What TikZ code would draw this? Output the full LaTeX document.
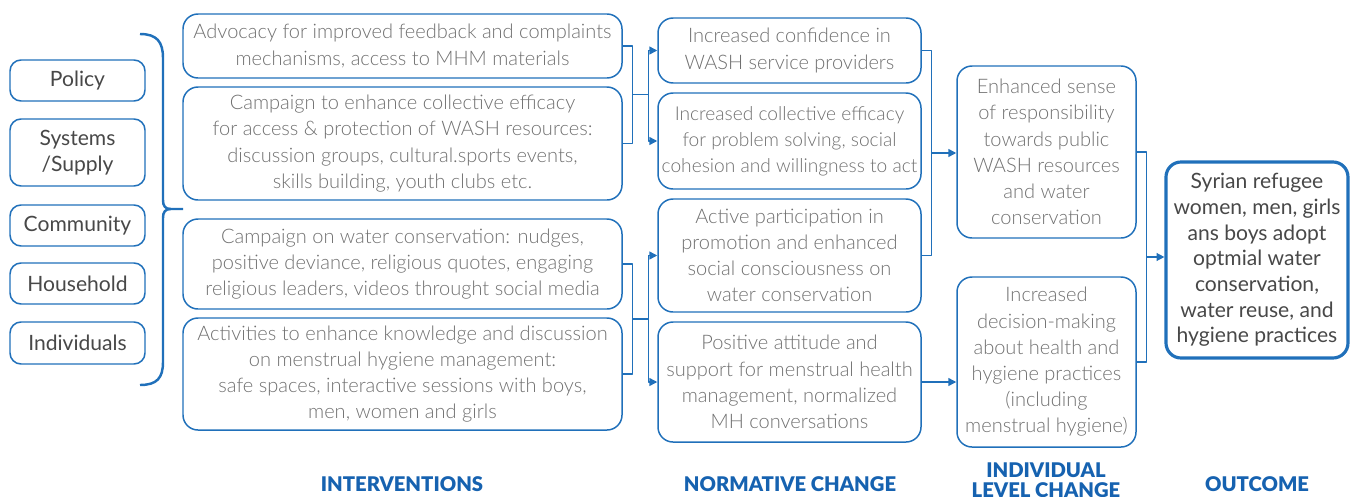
\documentclass[tikz,border=0pt]{standalone}
\usepackage{fontspec}
\setmainfont{Lato}
\newfontfamily\lightfont{Lato Light}
\newfontfamily\heavyfont{Lato Black}
\usetikzlibrary{calc,arrows.meta}
\definecolor{washblue}{RGB}{32,112,186}
\definecolor{headblue}{RGB}{22,98,176}
\definecolor{softgray}{RGB}{112,112,112}
\definecolor{darkgray}{RGB}{72,72,72}
\newcommand\pxu{0.02cm}
\begin{document}
\begin{tikzpicture}[x=0.02cm, y=-0.02cm, line join=round,
  box/.style={draw=washblue, line width=0.85pt, rounded corners=0.3cm, align=center, inner sep=0pt,
    text=softgray, font=\lightfont\fontsize{11.4}{14.9}\selectfont},
  level/.style={box, rounded corners=0.22cm, text=darkgray, font=\fontsize{12}{14.7}\selectfont},
  goal/.style={box, line width=1.8pt, text=darkgray, font=\fontsize{12}{14.6}\selectfont},
  link/.style={draw=washblue, line width=0.8pt},
  tip/.style={link, -{Triangle[length=4.5pt,width=4.5pt]}},
  head/.style={text=headblue, font=\heavyfont\fontsize{11.5}{11.3}\selectfont, align=center, inner sep=0pt}]
\useasboundingbox (0,0) rectangle (1350,497);

% levels
\foreach \n/\y/\h/\t in {pol/80.5/41/Policy, sys/152.5/67/{Systems\\/Supply}, com/225.5/41/Community,
    hou/283.5/41/Household, ind/343/42/Individuals}
  \node[level, minimum width=135*\pxu, minimum height=\h*\pxu] (\n) at (77.5,\y) {\t};
\draw[washblue, line width=1.4pt] (140,34) .. controls (157,34) and (163,42) .. (163,58) -- (163,200)
  .. controls (163,206) and (165,209) .. (171,209) -- (183,209)
  (171,209) .. controls (165,209) and (163,212) .. (163,218) -- (163,362)
  .. controls (163,378) and (157,385) .. (140,385);

% interventions
\node[box, minimum width=439*\pxu, minimum height=64*\pxu] (adv) at (402.5,46)
  {Advocacy for improved feedback and complaints\\mechanisms, access to MHM materials};
\node[box, minimum width=439*\pxu, minimum height=113*\pxu] (camp) at (402.5,143.5)
  {Campaign to enhance collective efficacy\\for access \& protection of WASH resources:\\discussion groups, cultural.sports events,\\skills building, youth clubs etc.};
\node[box, minimum width=439*\pxu, minimum height=90*\pxu] (cons) at (402.5,264)
  {Campaign on water conservation: nudges,\\positive deviance, religious quotes, engaging\\religious leaders, videos throught social media};
\node[box, minimum width=439*\pxu, minimum height=112*\pxu] (mhm) at (402.5,374)
  {Activities to enhance knowledge and discussion\\on menstrual hygiene management:\\safe spaces, interactive sessions with boys,\\men, women and girls};

% normative change
\node[box, minimum width=263*\pxu, minimum height=65*\pxu] (conf) at (789.5,50.5)
  {Increased confidence in\\WASH service providers};
\node[box, minimum width=263*\pxu, minimum height=96*\pxu, font=\lightfont\fontsize{10.9}{14.9}\selectfont] (eff) at (789.5,141)
  {Increased collective efficacy\\for problem solving, social\\cohesion and willingness to act};
\node[box, minimum width=263*\pxu, minimum height=113*\pxu] (part) at (789.5,255.5)
  {Active participation in\\promotion and enhanced\\social consciousness on\\water conservation};
\node[box, minimum width=263*\pxu, minimum height=120*\pxu] (att) at (789.5,382)
  {Positive attitude and\\support for menstrual health\\management, normalized\\MH conversations};

% individual change
\node[box, minimum width=179*\pxu, minimum height=172*\pxu] (resp) at (1046.5,152)
  {Enhanced sense\\of responsibility\\towards public\\WASH resources\\and water\\conservation};
\node[box, minimum width=179*\pxu, minimum height=170*\pxu] (dec) at (1046.5,362)
  {Increased\\decision-making\\about health and\\hygiene practices\\(including\\menstrual hygiene)};

% outcome
\node[goal, minimum width=182*\pxu, minimum height=196*\pxu] (out) at (1257,260)
  {Syrian refugee\\women, men, girls\\ans boys adopt\\optmial water\\conservation,\\water reuse, and\\hygiene practices};

% connectors
\draw[link] (adv.east) -- ++(10,0) coordinate (a1) |- (camp.east);
\path ($(a1)!.5!(a1 |- camp.east)$) coordinate (j1) ++(16,0) coordinate (s1);
\draw[link] (j1) -- (s1);
\draw[tip] (s1) |- (conf.west);
\draw[tip] (s1) |- (eff.west);

\draw[link] (cons.east) -- ++(10,0) coordinate (a2) |- (mhm.east);
\path ($(a2)!.5!(a2 |- mhm.east)$) coordinate (j2) ++(16,0) coordinate (s2);
\draw[link] (j2) -- (s2);
\draw[tip] (s2) |- (part.west);
\draw[tip] (s2) |- (att.west);

\draw[link] (conf.east) -- ++(10,0) coordinate (c1) |- (part.east);
\path ($(c1)!.5!(c1 |- part.east)$) coordinate (j3);
\draw[tip] (j3) -- (j3 -| resp.west);
\draw[tip] (att.east) -- (att.east -| dec.west);

\draw[link] (resp.east) -- ++(10,0) coordinate (r1) |- (dec.east);
\path ($(r1)!.5!(r1 |- dec.east)$) coordinate (j5);
\draw[tip] (j5) -- (j5 -| out.west);

% column titles
\node[head] (hint) at (402,484) {INTERVENTIONS};
\node[head] (hnorm) at (790,484) {NORMATIVE CHANGE};
\node[head] (hind) at (1046,480) {INDIVIDUAL\\LEVEL CHANGE};
\node[head] (hout) at (1257,484) {OUTCOME};
\end{tikzpicture}
\end{document}
